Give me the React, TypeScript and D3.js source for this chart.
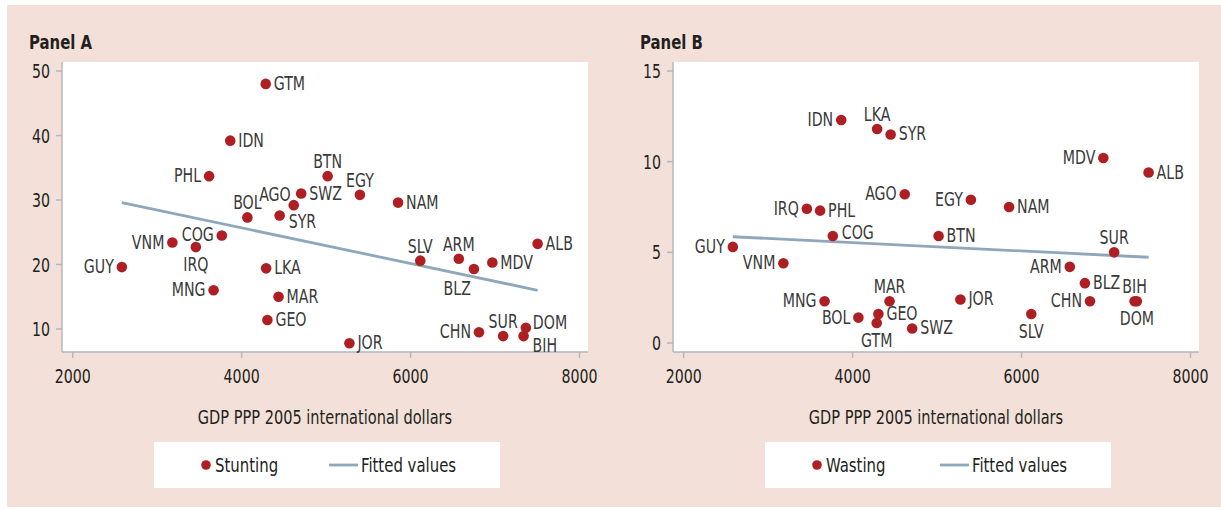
import React from "react";
import * as d3 from "d3";

const width = 1221;
const height = 510;
const font = "'Liberation Sans Narrow', 'DejaVu Sans Condensed', sans-serif";
const squeeze = 0.83; // the source uses a condensed face; narrow the fallback horizontally
const ink = "#231f20";
const dotColor = "#ae1f24";
const fitColor = "#8fa7bb";
const axisColor = "#b5b5bd";

// country codes and GDP per capita (PPP, 2005 intl $)
const countries = ["GTM", "IDN", "PHL", "BTN", "SWZ", "AGO", "EGY", "NAM", "SYR", "BOL", "COG", "VNM", "IRQ", "GUY", "LKA", "MNG", "MAR", "GEO", "JOR", "SLV", "ARM", "BLZ", "MDV", "ALB", "CHN", "SUR", "DOM", "BIH"];
const gdp = [4285, 3865, 3615, 5018, 4705, 4617, 5400, 5852, 4450, 4068, 3765, 3180, 3458, 2582, 4290, 3668, 4437, 4305, 5276, 6115, 6571, 6750, 6968, 7504, 6810, 7096, 7365, 7338];
const stunting = [48.0, 39.2, 33.7, 33.7, 31.0, 29.2, 30.8, 29.6, 27.6, 27.3, 24.5, 23.4, 22.7, 19.6, 19.4, 16.0, 15.0, 11.4, 7.8, 20.6, 20.9, 19.3, 20.3, 23.2, 9.5, 8.9, 10.2, 8.9];
const wasting = [1.1, 12.3, 7.3, 5.9, 0.8, 8.2, 7.9, 7.5, 11.5, 1.4, 5.9, 4.4, 7.4, 5.3, 11.8, 2.3, 2.3, 1.6, 2.4, 1.6, 4.2, 3.3, 10.2, 9.4, 2.3, 5.0, 2.3, 2.3];

// marker label positions (like Stata's mlabvposition)
const stuntingLabelPos = ["r", "r", "l", "t", "r", "tl", "t", "r", "br", "t", "l", "l", "b", "l", "r", "l", "r", "r", "r", "t", "t", "bl", "r", "r", "l", "t", "ur", "lr"];
const wastingLabelPos = ["b", "l", "r", "r", "r", "l", "l", "r", "r", "l", "tr", "l", "l", "l", "t", "l", "t", "r", "r", "b", "l", "r", "l", "r", "l", "t", "b", "t"];

const gdpTicks = [2000, 4000, 6000, 8000];
const stuntingTicks = [10, 20, 30, 40, 50];
const wastingTicks = [0, 5, 10, 15];

// fitted values at the ends of the GDP range
const fitGdp = [2582, 7504];
const fitStunting = [29.6, 16.0];
const fitWasting = [5.86, 4.73];

const offsets: Record<string, { dx: number; dy: number; anchor: string }> = {
  r: { dx: 8, dy: 6, anchor: "start" },
  l: { dx: -8, dy: 6, anchor: "end" },
  t: { dx: 0, dy: -8, anchor: "middle" },
  b: { dx: 0, dy: 24, anchor: "middle" },
  tr: { dx: 9, dy: 3, anchor: "start" },
  br: { dx: 9, dy: 13, anchor: "start" },
  ur: { dx: 7, dy: 1, anchor: "start" },
  lr: { dx: 9, dy: 16, anchor: "start" },
  tl: { dx: -3, dy: -4, anchor: "end" },
  bl: { dx: -3, dy: 26, anchor: "end" },
};

function T({ x, y, size, anchor = "start", weight, fill, children }: any) {
  return (
    <text
      transform={`translate(${x},${y}) scale(${squeeze},1)`}
      fontSize={size}
      textAnchor={anchor}
      fontWeight={weight}
      fill={fill}
    >
      {children}
    </text>
  );
}

type PanelProps = {
  dx: number;
  title: string;
  values: number[];
  labelPos: string[];
  yTicks: number[];
  yDomain: [number, number];
  yRange: [number, number];
  fit: number[];
  seriesName: string;
};

function Panel({ dx, title, values, labelPos, yTicks, yDomain, yRange, fit, seriesName }: PanelProps) {
  const x = d3.scaleLinear().domain([2000, 8000]).range([72.7 + dx, 579.5 + dx]);
  const y = d3.scaleLinear().domain(yDomain).range(yRange);
  const plotL = 62 + dx;
  const plotR = 588 + dx;
  const plotT = 62;
  const plotB = 352;
  const line = d3
    .line<number>()
    .x((_, i) => x(fitGdp[i]))
    .y((d) => y(d));

  return (
    <g fontFamily={font} fill={ink}>
      <T x={29 + dx} y={49} size={20} weight="bold">
        {title}
      </T>
      <rect x={plotL} y={plotT} width={plotR - plotL} height={plotB - plotT} fill="#fff" />
      <line x1={plotL} x2={plotL} y1={plotT} y2={plotB} stroke={axisColor} strokeWidth={1.5} />
      <line x1={plotL} x2={plotR} y1={plotB} y2={plotB} stroke={axisColor} strokeWidth={1.5} />
      {yTicks.map((t) => (
        <g key={t}>
          <line x1={plotL - 6} x2={plotL} y1={y(t)} y2={y(t)} stroke={axisColor} strokeWidth={1.5} />
          <T x={plotL - 12} y={y(t) + 7} size={19} anchor="end">
            {t}
          </T>
        </g>
      ))}
      {gdpTicks.map((t) => (
        <g key={t}>
          <line x1={x(t)} x2={x(t)} y1={plotB} y2={plotB + 6} stroke={axisColor} strokeWidth={1.5} />
          <T x={x(t)} y={383} size={19} anchor="middle">
            {t}
          </T>
        </g>
      ))}
      <path d={line(fit) || ""} fill="none" stroke={fitColor} strokeWidth={2.8} />
      {values.map((v, i) => {
        const o = offsets[labelPos[i]];
        const cx = x(gdp[i]);
        const cy = y(v);
        return (
          <g key={countries[i]}>
            <circle cx={cx} cy={cy} r={5.3} fill={dotColor} />
            <T x={cx + o.dx} y={cy + o.dy} size={19} anchor={o.anchor} fill="#3a3a3a">
              {countries[i]}
            </T>
          </g>
        );
      })}
      <T x={325 + dx} y={424} size={19.5} anchor="middle">
        GDP PPP 2005 international dollars
      </T>
      <rect x={154 + dx} y={442} width={346} height={46} fill="#fff" />
      <circle cx={206 + dx} cy={465} r={4.8} fill={dotColor} />
      <T x={215 + dx} y={472} size={20}>
        {seriesName}
      </T>
      <line x1={329 + dx} x2={358 + dx} y1={465} y2={465} stroke={fitColor} strokeWidth={2.8} />
      <T x={361 + dx} y={472} size={20}>
        Fitted values
      </T>
    </g>
  );
}

export default function App() {
  return (
    <svg width={width} height={height} style={{ position: "absolute", left: 0, top: 0, background: "#fff" }}>
      <rect x={7} y={5} width={width - 7} height={502} fill="#f3e1d9" />
      <Panel
        dx={0}
        title="Panel A"
        values={stunting}
        labelPos={stuntingLabelPos}
        yTicks={stuntingTicks}
        yDomain={[10, 50]}
        yRange={[329, 71]}
        fit={fitStunting}
        seriesName="Stunting"
      />
      <Panel
        dx={611}
        title="Panel B"
        values={wasting}
        labelPos={wastingLabelPos}
        yTicks={wastingTicks}
        yDomain={[0, 15]}
        yRange={[343, 71]}
        fit={fitWasting}
        seriesName="Wasting"
      />
    </svg>
  );
}
